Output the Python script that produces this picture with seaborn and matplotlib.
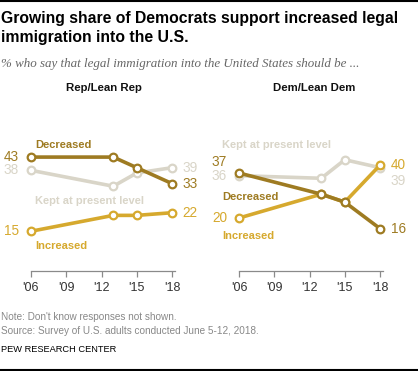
import matplotlib
matplotlib.use("Agg")
import matplotlib.pyplot as plt
import seaborn as sns
from matplotlib.lines import Line2D

# Data
years = [2006, 2013, 2015, 2018]
tick_years = [2006, 2009, 2012, 2015, 2018]
tick_labels = ["'06", "'09", "'12", "'15", "'18"]

rep_decreased = [43, 43, 39, 33]
rep_kept = [38, 32, 37, 39]
rep_increased = [15, 21, 21, 22]

dem_decreased = [37, 29, 26, 16]
dem_kept = [36, 35, 42, 39]
dem_increased = [20, 29, 26, 40]

c_dec = "#9E7B22"
c_kept = "#D9D5C8"
c_inc = "#D6A92E"

sns.set_style("white")
plt.rcParams['font.family'] = ['Liberation Sans', 'DejaVu Sans']

fig = plt.figure(figsize=(4.18, 3.71), dpi=100)
W, H = 418, 371


def fx(px):
    return px / W


def fy(py):
    return 1 - py / H


ax_w = 144 / W
ax_b = fy(271)
ax_h = (271 - 125.3) / H
ax_rep = fig.add_axes([fx(31), ax_b, ax_w, ax_h])
ax_dem = fig.add_axes([fx(239), ax_b, ax_w, ax_h])


def draw_panel(ax, dec, kept, inc):
    for vals, c in [(kept, c_kept), (inc, c_inc), (dec, c_dec)]:
        sns.lineplot(x=years, y=vals, color=c, marker='o', markerfacecolor='white',
                     markeredgecolor=c, markersize=5.5, markeredgewidth=1.6,
                     linewidth=2.6, ax=ax)
    ax.set_xlim(2006, 2018.25)
    ax.set_ylim(0, 55)
    ax.set_xticks(tick_years)
    ax.set_xticklabels(tick_labels, fontsize=9, color="#333333")
    ax.set_yticks([])
    for s in ["top", "right", "left"]:
        ax.spines[s].set_visible(False)
    ax.spines["bottom"].set_color("#8a8a8a")
    ax.spines["bottom"].set_linewidth(0.9)
    ax.tick_params(axis='x', bottom=True, length=4, width=0.9, color="#8a8a8a", pad=4)
    ax.patch.set_alpha(0)
    for line in ax.lines:
        line.set_clip_on(False)


draw_panel(ax_rep, rep_decreased, rep_kept, rep_increased)
draw_panel(ax_dem, dem_decreased, dem_kept, dem_increased)

# Value labels
lab = dict(fontsize=9.8, va='center')
ax_rep.text(2005.0, rep_decreased[0], str(rep_decreased[0]), color=c_dec, ha='right', **lab)
ax_rep.text(2005.0, rep_kept[0], str(rep_kept[0]), color=c_kept, ha='right', **lab)
ax_rep.text(2005.0, rep_increased[0], str(rep_increased[0]), color=c_inc, ha='right', **lab)
ax_rep.text(2018.9, rep_kept[-1], str(rep_kept[-1]), color=c_kept, ha='left', **lab)
ax_rep.text(2018.9, rep_decreased[-1], str(rep_decreased[-1]), color=c_dec, ha='left', **lab)
ax_rep.text(2018.9, rep_increased[-1], str(rep_increased[-1]), color=c_inc, ha='left', **lab)

ax_dem.text(2005.0, dem_decreased[0] + 4, str(dem_decreased[0]), color=c_dec, ha='right', **lab)
ax_dem.text(2005.0, dem_kept[0], str(dem_kept[0]), color=c_kept, ha='right', **lab)
ax_dem.text(2005.0, dem_increased[0], str(dem_increased[0]), color=c_inc, ha='right', **lab)
ax_dem.text(2018.9, dem_increased[-1], str(dem_increased[-1]), color=c_inc, ha='left', **lab)
ax_dem.text(2018.9, dem_kept[-1] - 5, str(dem_kept[-1]), color=c_kept, ha='left', **lab)
ax_dem.text(2018.9, dem_decreased[-1], str(dem_decreased[-1]), color=c_dec, ha='left', **lab)

# Series labels
sl = dict(fontsize=8, fontweight='bold', ha='left', va='center')
fig.text(fx(35), fy(145), "Decreased", color=c_dec, **sl)
fig.text(fx(35), fy(201), "Kept at present level", color=c_kept, **sl)
fig.text(fx(35), fy(246), "Increased", color=c_inc, **sl)
fig.text(fx(222), fy(145), "Kept at present level", color=c_kept, **sl)
fig.text(fx(222), fy(197), "Decreased", color=c_dec, **sl)
fig.text(fx(222), fy(236), "Increased", color=c_inc, **sl)

# Panel titles
fig.text(fx(104), fy(88), "Rep/Lean Rep", fontsize=8.2, fontweight='bold', ha='center', va='center', color="#111111")
fig.text(fx(314), fy(88), "Dem/Lean Dem", fontsize=8.2, fontweight='bold', ha='center', va='center', color="#111111")

# Title and subtitle
fig.text(fx(1), fy(11), "Growing share of Democrats support increased legal\nimmigration into the U.S.",
         fontsize=11.3, fontweight='bold', ha='left', va='top', color="#000000", linespacing=1.3)
fig.text(fx(1), fy(64), "% who say that legal immigration into the United States should be ...",
         fontsize=9.4, fontstyle='italic', family='Liberation Serif', ha='left', va='center', color="#666666")

# Notes
fig.text(fx(1), fy(317), "Note: Don't know responses not shown.", fontsize=7.2, color="#888888", ha='left', va='center')
fig.text(fx(1), fy(331), "Source: Survey of U.S. adults conducted June 5-12, 2018.", fontsize=7.2, color="#888888", ha='left', va='center')
fig.text(fx(1), fy(349), "PEW RESEARCH CENTER", fontsize=6.7, color="#000000", ha='left', va='center')

# Top and bottom rules
fig.add_artist(Line2D([0, 1], [fy(0.8), fy(0.8)], color='black', linewidth=1.5, transform=fig.transFigure))
fig.add_artist(Line2D([0, 1], [fy(370), fy(370)], color='black', linewidth=1.5, transform=fig.transFigure))

fig.savefig("out.png", dpi=100)
